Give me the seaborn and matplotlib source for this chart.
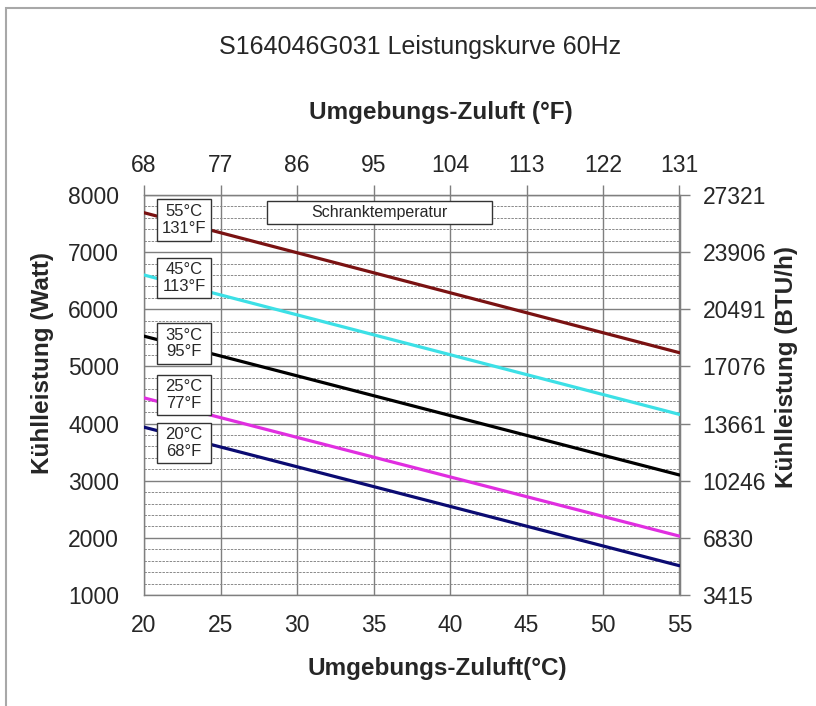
import numpy as np
import pandas as pd
import matplotlib
matplotlib.use('Agg')
import matplotlib.pyplot as plt
import seaborn as sns
from matplotlib.patches import Rectangle
from matplotlib.ticker import MultipleLocator

# Leistungskurve, Werte
ambient_c = [20, 55]
cab_55 = [7690, 5240]
cab_45 = [6600, 4160]
cab_35 = [5530, 3100]
cab_25 = [4450, 2030]
cab_20 = [3937, 1512]

series_names = ['55°C\n131°F', '45°C\n113°F', '35°C\n95°F', '25°C\n77°F', '20°C\n68°F']
series_values = [cab_55, cab_45, cab_35, cab_25, cab_20]
series_colors = ['#7a1212', '#3ce0e6', '#000000', '#e02ee0', '#0b0b72']

x_ticks_c = [20, 25, 30, 35, 40, 45, 50, 55]
x_ticks_f = [68, 77, 86, 95, 104, 113, 122, 131]
y_ticks_w = [1000, 2000, 3000, 4000, 5000, 6000, 7000, 8000]
y_labels_btu = ['3415', '6830', '10246', '13661', '17076', '20491', '23906', '27321']

rows = []
for name, vals in zip(series_names, series_values):
    for c, w in zip(ambient_c, vals):
        rows.append({'temp': c, 'watt': w, 'schrank': name})
df = pd.DataFrame(rows)

sns.set_style('white')
plt.rcParams['font.family'] = ['Liberation Sans', 'DejaVu Sans']

fig = plt.figure(figsize=(8.16, 7.06), dpi=100)
ax = fig.add_axes([144/816, 1-595/706, 535.5/816, 400/706])

grid_c = '#7f7f7f'
sns.lineplot(data=df, x='temp', y='watt', hue='schrank', palette=series_colors,
             hue_order=series_names, linewidth=2.3, legend=False, ax=ax, zorder=3)

ax.set_xlim(20, 55)
ax.set_ylim(1000, 8000)
ax.set_xticks(x_ticks_c)
ax.set_yticks(y_ticks_w)
ax.yaxis.set_minor_locator(MultipleLocator(200))
ax.grid(which='major', axis='both', color=grid_c, lw=1.0, zorder=1)
ax.grid(which='minor', axis='y', color='#8a8a8a', lw=0.7, ls=(0, (2.5, 1.2)), zorder=1)
ax.tick_params(which='minor', length=0)
ax.tick_params(which='major', direction='out', length=7, width=1, color=grid_c, labelsize=16.5)
ax.tick_params(axis='x', pad=6.5)
ax.tick_params(axis='y', pad=11)
for s in ax.spines.values():
    s.set_color(grid_c)
    s.set_linewidth(1.0)
ax.set_xlabel('')
ax.set_ylabel('')

# obere Achse in °F
secx = ax.secondary_xaxis('top', functions=(lambda c: c*1.8 + 32, lambda f: (f - 32)/1.8))
secx.set_xticks(x_ticks_f)
secx.tick_params(direction='out', length=7, width=1, color=grid_c, labelsize=16.5, pad=6)
secx.spines['top'].set_color(grid_c)

# rechte Achse in BTU/h
k = 3.41514
secy = ax.secondary_yaxis('right', functions=(lambda w: w*k, lambda b: b/k))
secy.set_yticks([w*k for w in y_ticks_w])
secy.set_yticklabels(y_labels_btu)
secy.tick_params(direction='out', length=7, width=1, color=grid_c, labelsize=16.5, pad=9.5)
secy.spines['right'].set_color(grid_c)

# Beschriftungskästen
box_y = [(0.885, 0.99), (0.7425, 0.8425), (0.5775, 0.68), (0.45, 0.55), (0.33, 0.43)]
for name, (y0, y1) in zip(series_names, box_y):
    ax.add_patch(Rectangle((0.0237, y0), 0.102, y1 - y0, transform=ax.transAxes,
                           facecolor='white', edgecolor='#333333', lw=1.0, zorder=5))
    ax.text(0.0237 + 0.051, (y0 + y1)/2, name, transform=ax.transAxes, ha='center',
            va='center', fontsize=12, linespacing=1.15, zorder=6)

ax.add_patch(Rectangle((0.2295, 0.9275), 0.42, 0.0575, transform=ax.transAxes,
                       facecolor='white', edgecolor='#333333', lw=1.0, zorder=5))
ax.text(0.4395, 0.956, 'Schranktemperatur', transform=ax.transAxes, ha='center',
        va='center', fontsize=11.5, zorder=6)

fig.text(420/816, 1-47/706, 'S164046G031 Leistungskurve 60Hz', ha='center', va='center', fontsize=18)
fig.text(441/816, 1-112/706, 'Umgebungs-Zuluft (°F)', ha='center', va='center',
         fontsize=17.5, fontweight='bold')
fig.text(437/816, 1-669/706, 'Umgebungs-Zuluft(°C)', ha='center', va='center',
         fontsize=17.5, fontweight='bold')
fig.text(43/816, 1-363/706, 'Kühlleistung (Watt)', ha='center', va='center',
         rotation=90, fontsize=17.5, fontweight='bold')
fig.text(786/816, 1-367/706, 'Kühlleistung (BTU/h)', ha='center', va='center',
         rotation=90, fontsize=17.5, fontweight='bold')

fig.add_artist(Rectangle((6/816, -0.05), 1.1, (706-8)/706 + 0.05, transform=fig.transFigure,
                         fill=False, edgecolor='#a8a8a8', lw=1.5))

fig.savefig('out.png', dpi=100)
